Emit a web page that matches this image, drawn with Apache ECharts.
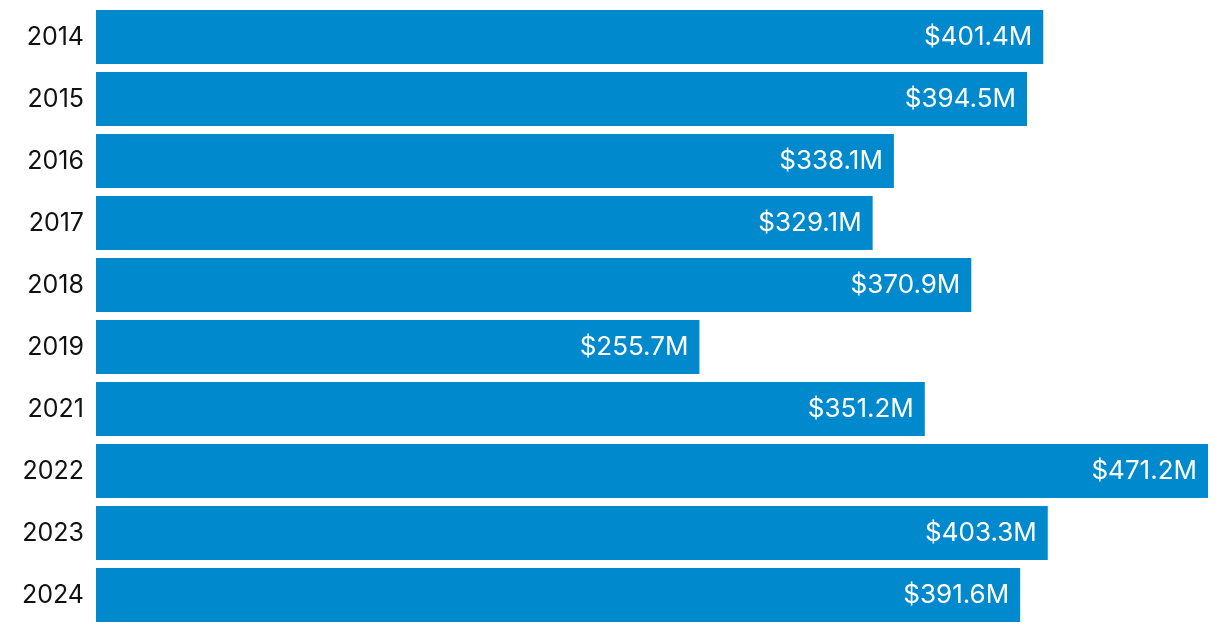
<!DOCTYPE html>
<html>
<head>
<meta charset="utf-8">
<script src="https://cdn.jsdelivr.net/npm/echarts@6/dist/echarts.min.js"></script>
<style>
  html, body { margin: 0; padding: 0; background: #fff; }
  #chart { width: 1220px; height: 632px; }
</style>
</head>
<body>
<div id="chart"></div>
<script>
const years = ['2014', '2015', '2016', '2017', '2018', '2019', '2021', '2022', '2023', '2024'];
const amounts = [401.4, 394.5, 338.1, 329.1, 370.9, 255.7, 351.2, 471.2, 403.3, 391.6];

const chart = echarts.init(document.getElementById('chart'));
chart.setOption({
    animation: false,
    grid: { left: 96, right: 12, top: 6, bottom: 6, containLabel: false },
    xAxis: {
        type: 'value',
        min: 0,
        max: 471.2,
        show: false
    },
    yAxis: {
        type: 'category',
        data: years,
        inverse: true,
        axisLine: { show: false },
        axisTick: { show: false },
        axisLabel: {
            margin: 12,
            color: '#111',
            fontFamily: 'Inter',
            fontSize: 25
        }
    },
    series: [{
        type: 'bar',
        data: amounts,
        barCategoryGap: '13%',
        itemStyle: { color: '#0089cc' },
        label: {
            show: true,
            position: 'insideRight',
            distance: 11,
            color: '#fff',
            fontFamily: 'Inter',
            fontSize: 26,
            formatter: p => '$' + p.value.toFixed(1) + 'M'
        }
    }]
});
</script>
</body>
</html>
